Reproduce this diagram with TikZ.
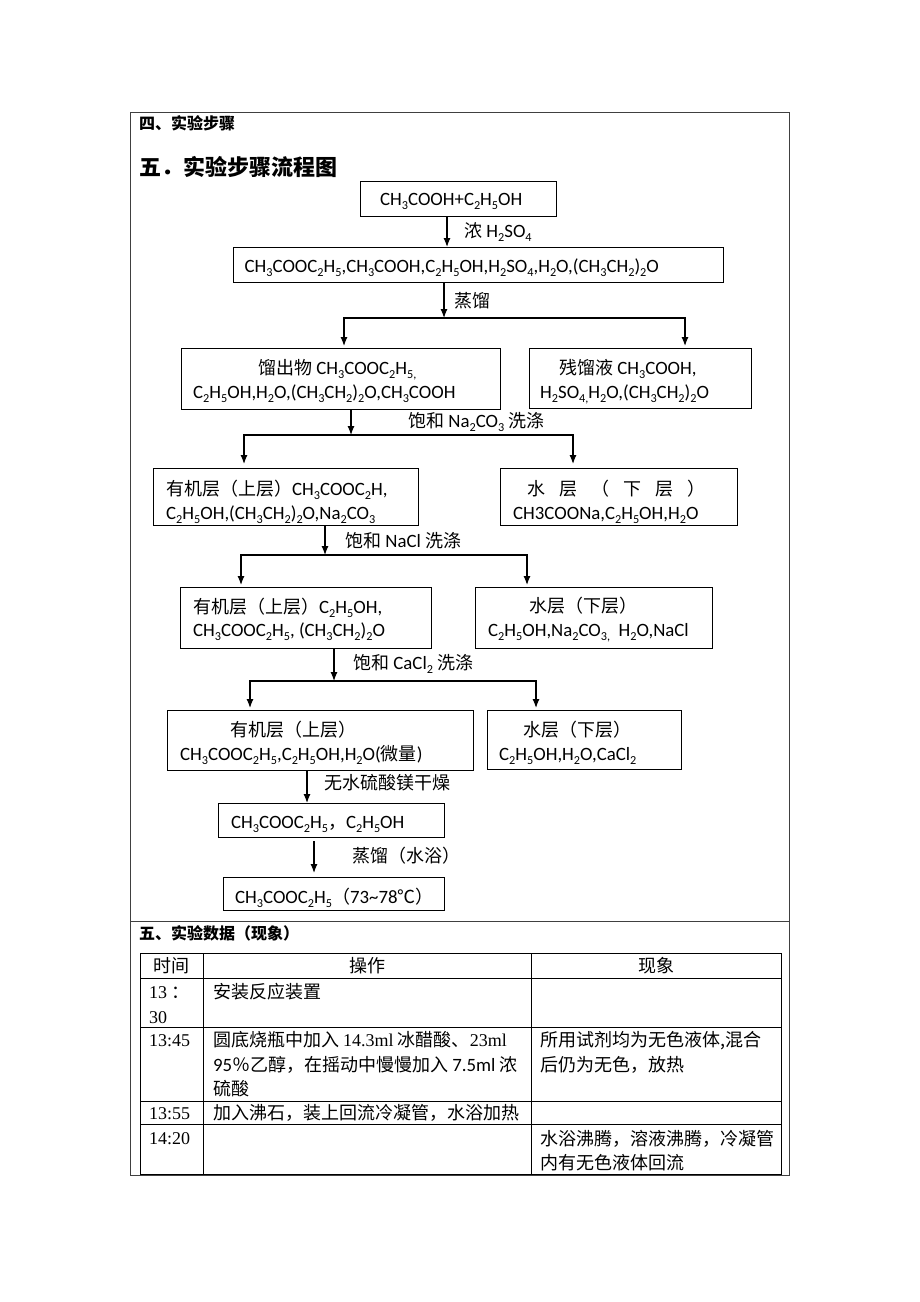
\documentclass[tikz,border=0pt]{standalone}
\usepackage{fontspec}
\setmainfont{Carlito}[Scale=1.045]
\newfontfamily\cjk{Noto Sans CJK SC}
\newfontfamily\serf{Liberation Serif}
\usetikzlibrary{arrows.meta}
\newcommand\subs[1]{\raisebox{-0.22em}{\scalebox{0.65}{#1}}}
\newcommand\dg[1]{{\serf\fontsize{18}{20}\selectfont #1}}
\begin{document}
\begin{tikzpicture}[x=1pt,y=-1pt,
  box/.style={draw, line width=1.2pt, inner sep=0pt, anchor=north west},
  txt/.style={anchor=west, inner sep=0pt, text height=14pt, text depth=2pt, font=\fontsize{18}{20}\selectfont},
  tbl/.style={anchor=west, inner sep=0pt, text height=14pt, text depth=2pt, font=\fontsize{18}{20}\selectfont\cjk},
  ctbl/.style={tbl, anchor=center},
  arr/.style={line width=1.2pt, -{Latex[length=9pt,width=7pt]}},
  barr/.style={line width=1.2pt, {Latex[length=9pt,width=7pt]}-{Latex[length=9pt,width=7pt]}},
  frame/.style={line width=0.9pt, draw=black!75},
  grid/.style={line width=1pt}]
\useasboundingbox (0,0) rectangle (920,1302);
\fill[white] (0,0) rectangle (920,1302);
% outer frame
\draw[frame] (130,112) rectangle (789,1175);
\draw[frame] (130,921) -- (789,921);
% headings
\node[txt, font=\fontsize{16}{18}\selectfont\cjk\bfseries] (h1) at (139,123) {四、实验步骤};
\node[txt, font=\fontsize{22}{24}\selectfont\cjk\bfseries] (h2) at (139,169) {五．实验步骤流程图};
\node[txt, font=\fontsize{16}{18}\selectfont\cjk\bfseries] (h3) at (139,933) {五、实验数据（现象）};
% boxes
\node[box, minimum width=196pt, minimum height=35pt] (A) at (360,181) {};
\node[box, minimum width=490pt, minimum height=35pt] (B) at (233,247) {};
\node[box, minimum width=319pt, minimum height=61pt] (C) at (181,348) {};
\node[box, minimum width=222pt, minimum height=60pt] (D) at (529,348) {};
\node[box, minimum width=265pt, minimum height=57pt] (E) at (153,468) {};
\node[box, minimum width=237pt, minimum height=57pt] (F) at (500,468) {};
\node[box, minimum width=251pt, minimum height=61pt] (G) at (180,587) {};
\node[box, minimum width=237pt, minimum height=61pt] (H) at (475,587) {};
\node[box, minimum width=306pt, minimum height=60pt] (I) at (167,710) {};
\node[box, minimum width=194pt, minimum height=59pt] (J) at (487,710) {};
\node[box, minimum width=226pt, minimum height=34pt] (K) at (218,803) {};
\node[box, minimum width=221pt, minimum height=33pt] (L) at (223,877) {};
% box texts
\node[txt] (tA) at (380,199) {CH\subs{3}COOH+C\subs{2}H\subs{5}OH};
\node[txt] (tB) at (244.5,266) {CH\subs{3}COOC\subs{2}H\subs{5},CH\subs{3}COOH,C\subs{2}H\subs{5}OH,H\subs{2}SO\subs{4},H\subs{2}O,(CH\subs{3}CH\subs{2})\subs{2}O};
\node[txt] (tC1) at (258,368) {{\cjk 馏出物} CH\subs{3}COOC\subs{2}H\subs{5,}};
\node[txt] (tC2) at (193,392) {C\subs{2}H\subs{5}OH,H\subs{2}O,(CH\subs{3}CH\subs{2})\subs{2}O,CH\subs{3}COOH};
\node[txt] (tD1) at (559,368) {{\cjk 残馏液} CH\subs{3}COOH,};
\node[txt] (tD2) at (540,392) {H\subs{2}SO\subs{4,}H\subs{2}O,(CH\subs{3}CH\subs{2})\subs{2}O};
\node[txt] (tE1) at (166,489) {{\cjk 有机层（上层）}CH\subs{3}COOC\subs{2}H,};
\node[txt] (tE2) at (166,513) {C\subs{2}H\subs{5}OH,(CH\subs{3}CH\subs{2})\subs{2}O,Na\subs{2}CO\subs{3}};
\node[txt] (tF1) at (527,489) {\cjk 水\hspace{14pt}层\hspace{14pt}（\hspace{14pt}下\hspace{14pt}层\hspace{14pt}）};
\node[txt] (tF2) at (513,513) {CH3COONa,C\subs{2}H\subs{5}OH,H\subs{2}O};
\node[txt] (tG1) at (193,607) {{\cjk 有机层（上层）}C\subs{2}H\subs{5}OH,};
\node[txt] (tG2) at (193,630) {CH\subs{3}COOC\subs{2}H\subs{5}, (CH\subs{3}CH\subs{2})\subs{2}O};
\node[txt] (tH1) at (529,606) {\cjk 水层（下层）};
\node[txt] (tH2) at (488,630) {C\subs{2}H\subs{5}OH,Na\subs{2}CO\subs{3,}\ \ H\subs{2}O,NaCl};
\node[txt] (tI1) at (230,730) {\cjk 有机层（上层）};
\node[txt] (tI2) at (180,754) {CH\subs{3}COOC\subs{2}H\subs{5},C\subs{2}H\subs{5}OH,H\subs{2}O({\cjk 微量})};
\node[txt] (tJ1) at (523,730) {\cjk 水层（下层）};
\node[txt] (tJ2) at (499,754) {C\subs{2}H\subs{5}OH,H\subs{2}O,CaCl\subs{2}};
\node[txt] (tK) at (231,822) {CH\subs{3}COOC\subs{2}H\subs{5}{\cjk ，}C\subs{2}H\subs{5}OH};
\node[txt] (tL) at (235,897) {CH\subs{3}COOC\subs{2}H\subs{5}{\cjk （}73\textasciitilde78{\cjk ℃）}};
% step labels
\node[txt] (l1) at (464,231) {{\cjk 浓} H\subs{2}SO\subs{4}};
\node[txt] (l2) at (454,301) {\cjk 蒸馏};
\node[txt] (l3) at (408,421) {{\cjk 饱和} Na\subs{2}CO\subs{3} {\cjk 洗涤}};
\node[txt] (l4) at (345,541) {{\cjk 饱和} NaCl {\cjk 洗涤}};
\node[txt] (l5) at (353,663) {{\cjk 饱和} CaCl\subs{2} {\cjk 洗涤}};
\node[txt] (l6) at (324,783) {\cjk 无水硫酸镁干燥};
\node[txt] (l7) at (352,856) {\cjk 蒸馏（水浴）};
% connectors
\coordinate (s1) at (447,216);
\draw[arr] (s1) -- (s1 |- B.north);
\coordinate (s2) at (444,282);
\coordinate (j2) at (444,318);
\coordinate (a2) at (344,318);
\coordinate (b2) at (685,318);
\draw[arr] (s2) -- (j2);
\draw[barr, shorten <=2pt, shorten >=2pt] (a2 |- C.north) -- (a2) -- (b2) -- (b2 |- D.north);
\coordinate (s3) at (351,409);
\coordinate (j3) at (351,435);
\coordinate (a3) at (244,435);
\coordinate (b3) at (573,435);
\draw[arr] (s3) -- (j3);
\draw[barr, shorten <=4pt, shorten >=4pt] (a3 |- E.north) -- (a3) -- (b3) -- (b3 |- F.north);
\coordinate (s4) at (325,525);
\coordinate (j4) at (325,555);
\coordinate (a4) at (241,555);
\coordinate (b4) at (527,555);
\draw[arr] (s4) -- (j4);
\draw[barr, shorten <=2pt, shorten >=2pt] (a4 |- G.north) -- (a4) -- (b4) -- (b4 |- H.north);
\coordinate (s5) at (334,648);
\coordinate (j5) at (334,681);
\coordinate (a5) at (250,681);
\coordinate (b5) at (536,681);
\draw[arr] (s5) -- (j5);
\draw[barr, shorten <=2pt, shorten >=2pt] (a5 |- I.north) -- (a5) -- (b5) -- (b5 |- J.north);
\coordinate (s6) at (307,770);
\draw[arr] (s6) -- (s6 |- K.north);
\coordinate (s7) at (314,841);
\draw[arr, shorten >=4pt] (s7) -- (s7 |- L.north);
% data table
\draw[grid] (140,953) rectangle (781,1174);
\foreach \yy in {978,1027,1101,1124.5} \draw[grid] (140,\yy) -- (781,\yy);
\draw[grid] (203.5,953) -- (203.5,1174);
\draw[grid] (531,953) -- (531,1174);
\node[ctbl] (th1) at (171.5,966) {时间};
\node[ctbl] (th2) at (367,966) {操作};
\node[ctbl] (th3) at (656,966) {现象};
\node[tbl] (r1a) at (149,992) {\dg{13}\ ：};
\node[tbl] (r1b) at (149,1017) {\dg{30}};
\node[tbl] (r1c) at (213,992) {安装反应装置};
\node[tbl] (r2a) at (149,1040) {\dg{13:45}};
\node[tbl] (r2b) at (213,1040) {圆底烧瓶中加入 \dg{14.3ml} 冰醋酸、\dg{23ml}};
\node[tbl] (r2c) at (213,1065) {{\rmfamily 95}％乙醇，在摇动中慢慢加入 {\rmfamily 7.5ml} 浓};
\node[tbl] (r2d) at (213,1089) {硫酸};
\node[tbl] (r2e) at (540,1040) {所用试剂均为无色液体,混合};
\node[tbl] (r2f) at (540,1065) {后仍为无色，放热};
\node[tbl] (r3a) at (149,1113) {\dg{13:55}};
\node[tbl] (r3b) at (213,1113) {加入沸石，装上回流冷凝管，水浴加热};
\node[tbl] (r4a) at (149,1138) {\dg{14:20}};
\node[tbl] (r4b) at (540,1139) {水浴沸腾，溶液沸腾，冷凝管};
\node[tbl] (r4c) at (540,1163) {内有无色液体回流};
\end{tikzpicture}
\end{document}
